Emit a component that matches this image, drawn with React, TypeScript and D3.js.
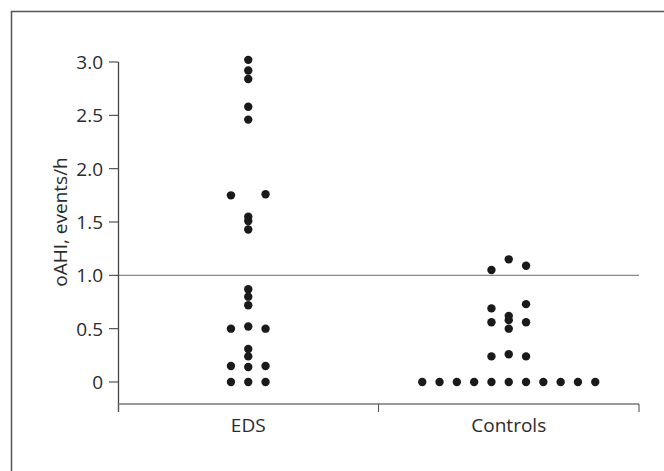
import React from "react";
import * as d3 from "d3";

const GROUPS = ["EDS", "Controls"];
const Y_TICKS = [0, 0.5, 1.0, 1.5, 2.0, 2.5, 3.0];
const Y_LABEL = "oAHI, events/h";
const THRESHOLD = 1.0;

// EDS values and their horizontal column slot (beeswarm slot)
const EDS_VALUES = [3.02, 2.92, 2.84, 2.58, 2.46, 1.75, 1.76, 1.55, 1.51, 1.43, 0.87, 0.8, 0.72, 0.5, 0.52, 0.5, 0.31, 0.24, 0.15, 0.14, 0.15, 0, 0, 0];
const EDS_SLOT = [0, 0, 0, 0, 0, -1, 1, 0, 0, 0, 0, 0, 0, -1, 0, 1, 0, 0, -1, 0, 1, -1, 0, 1];

const CTRL_VALUES = [1.05, 1.15, 1.09, 0.69, 0.73, 0.56, 0.62, 0.58, 0.56, 0.5, 0.24, 0.26, 0.24, 0, 0, 0, 0, 0, 0, 0, 0, 0, 0, 0];
const CTRL_SLOT = [-1, 0, 1, -1, 1, -1, 0, 0, 1, 0, -1, 0, 1, -5, -4, -3, -2, -1, 0, 1, 2, 3, 4, 5];

const W = 664;
const H = 471;
const FONT = "'Open Sans', sans-serif";
const FS = 19;

export default function App() {
  const x0 = 118, x1 = 639;
  const axisY = 404;
  const y = d3.scaleLinear().domain([0, 3]).range([382, 62]);
  const x = d3.scaleBand<string>().domain(GROUPS).range([x0, x1]);
  const slotW = 17.3;
  const groups = [
    { name: "EDS", values: EDS_VALUES, slots: EDS_SLOT },
    { name: "Controls", values: CTRL_VALUES, slots: CTRL_SLOT },
  ];
  const textColor = "#2b2b2b";
  const axisColor = "#444";
  return (
    <svg width={W} height={H} style={{ position: "absolute", left: 0, top: 0 }}>
      <rect x={0} y={0} width={W} height={H} fill="#fff" />
      {/* frame */}
      <path d={`M11.5,${H} V11.5 H${W}`} fill="none" stroke="#555" strokeWidth={1.5} />
      {/* threshold line */}
      <line x1={x0} x2={x1} y1={y(THRESHOLD)} y2={y(THRESHOLD)} stroke="#888" strokeWidth={1.3} />
      {/* y axis */}
      <line x1={x0 + 0.5} x2={x0 + 0.5} y1={y(3)} y2={412} stroke={axisColor} strokeWidth={1.3} />
      {Y_TICKS.map((t) => (
        <g key={t}>
          <line x1={109} x2={x0 + 0.5} y1={y(t)} y2={y(t)} stroke={axisColor} strokeWidth={1.1} />
          <text x={103} y={y(t)} dy="0.36em" textAnchor="end" fontFamily={FONT} fontSize={FS} fill={textColor}>
            {t === 0 ? "0" : d3.format(".1f")(t)}
          </text>
        </g>
      ))}
      <text
        transform={`translate(67,${(y(0) + y(3)) / 2}) rotate(-90)`}
        textAnchor="middle"
        fontFamily={FONT}
        fontSize={FS}
        fill={textColor}
      >
        {Y_LABEL}
      </text>
      {/* x axis */}
      <line x1={x0} x2={x1} y1={axisY} y2={axisY} stroke="#777" strokeWidth={1.5} />
      {[x0, x0 + x.bandwidth(), x1].map((px, i) => (
        <line key={i} x1={px + (i === 0 ? 0.5 : 0)} x2={px + (i === 0 ? 0.5 : 0)} y1={axisY} y2={412} stroke="#555" strokeWidth={1.1} />
      ))}
      {GROUPS.map((g) => (
        <text key={g} x={(x(g) as number) + x.bandwidth() / 2} y={432} textAnchor="middle" fontFamily={FONT} fontSize={FS} fill={textColor}>
          {g}
        </text>
      ))}
      {/* dots */}
      {groups.map((g) => {
        const cx = (x(g.name) as number) + x.bandwidth() / 2;
        return g.values.map((v, i) => (
          <circle key={g.name + i} cx={cx + g.slots[i] * slotW} cy={y(v)} r={4.2} fill="#1a1a1a" />
        ));
      })}
    </svg>
  );
}
